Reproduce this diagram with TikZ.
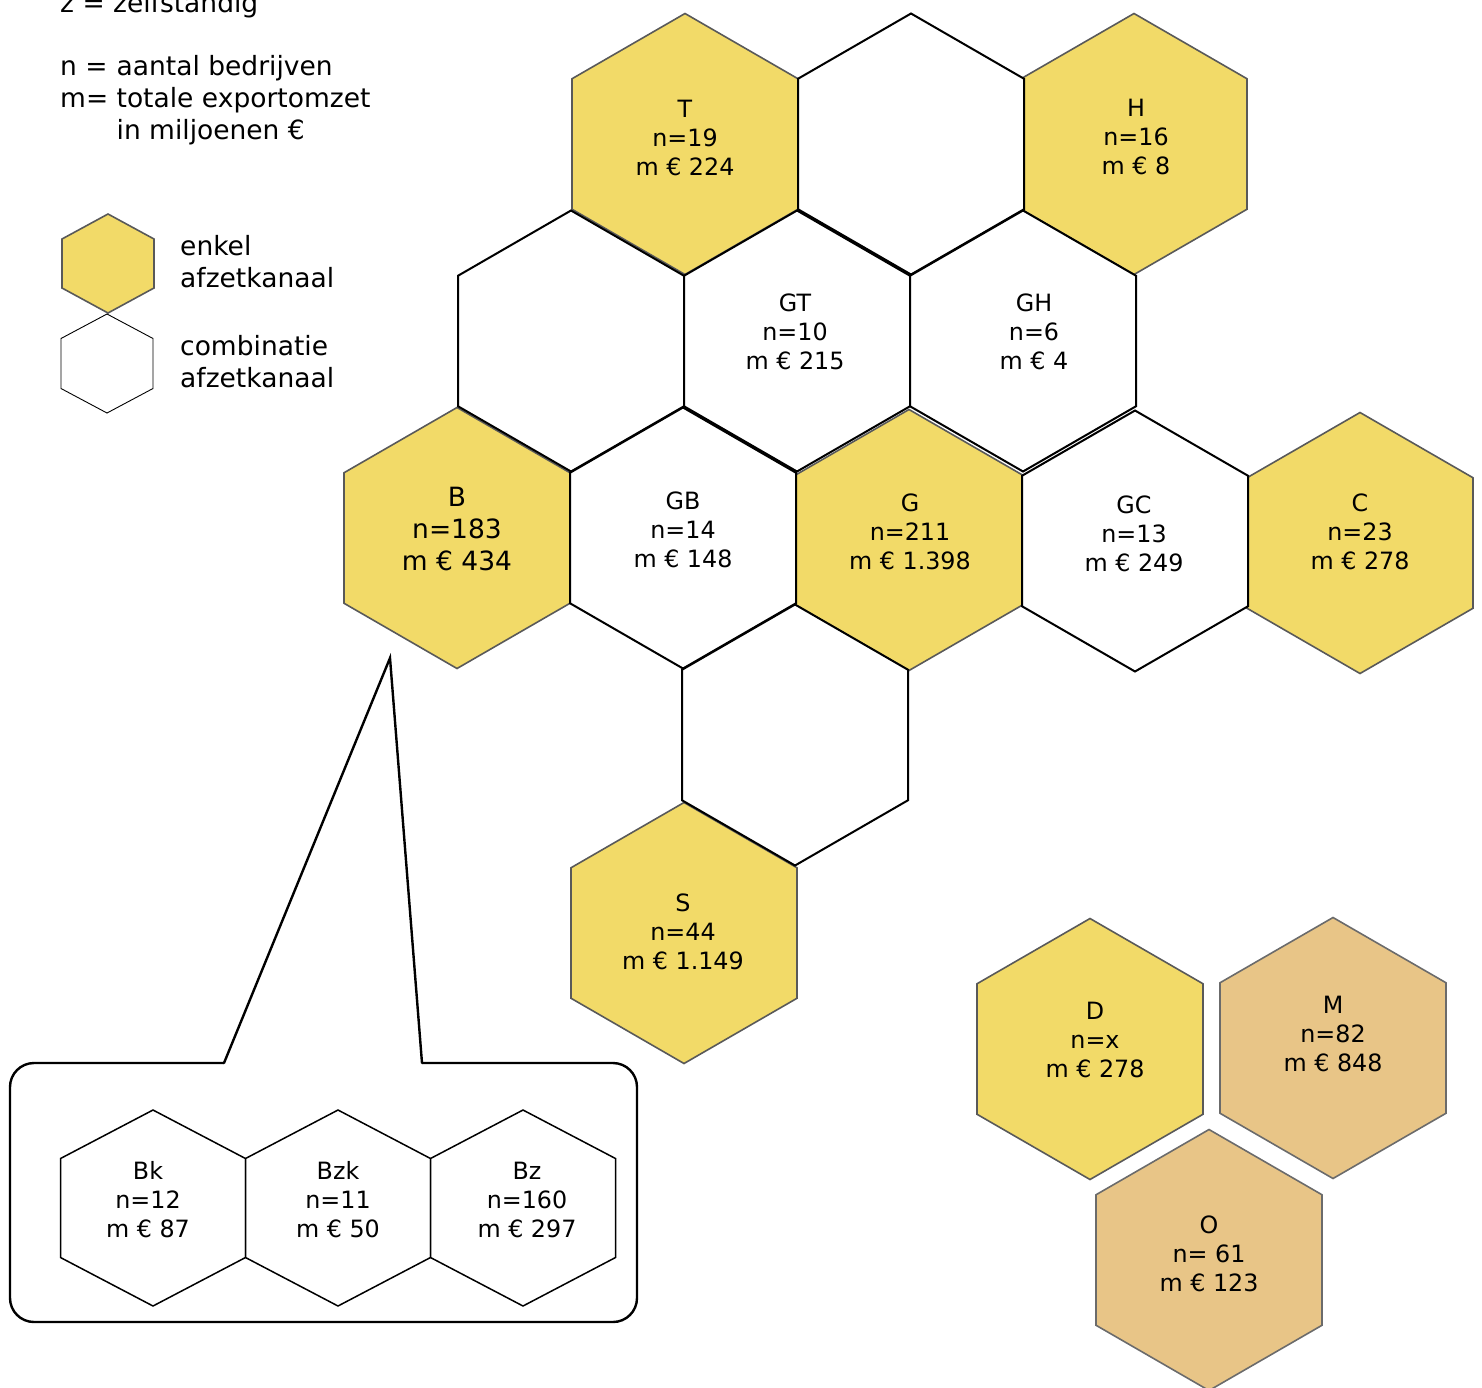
\documentclass[tikz,border=0pt]{standalone}
\usepackage{fontspec}
\setmainfont{DejaVu Sans}
\usetikzlibrary{positioning}

\definecolor{hexyellow}{HTML}{F2DA68}
\definecolor{hextan}{HTML}{E8C587}
\definecolor{hexedge}{HTML}{595959}
\definecolor{tanedge}{HTML}{6B6B6B}

\begin{document}
\begin{tikzpicture}[x=1pt, y=-1pt,
    pics/hexa/.style n args={4}{code={%
      \path[#1] (-#2,-#3) -- (0,-#4) -- (#2,-#3) -- (#2,#3) -- (0,#4) -- (-#2,#3) -- cycle;
    }},
    hexY/.style={fill=hexyellow, draw=hexedge, line width=1.6pt},
    hexT/.style={fill=hextan, draw=tanedge, line width=1.6pt},
    hexW/.style={fill=white, draw=black, line width=2pt},
    hexL/.style={fill=white, draw=black, line width=0.9pt},
    hexIn/.style={fill=white, draw=black, line width=1.5pt},
    lbl/.style={align=center, inner sep=0pt, font=\fontsize{23.8}{29}\selectfont},
    big/.style={lbl, font=\fontsize{26.5}{32}\selectfont},
    leg/.style={anchor=base west, inner sep=0pt, font=\fontsize{26.5}{32}\selectfont},
    callout/.style={draw=black, line width=2.4pt}
]
  \useasboundingbox (0,0) rectangle (1482,1387);

  % legend
  \node[leg] (zdef) at (60,12) {z = zelfstandig};
  \node[leg] (nmdef) at (60,75) {\begin{tabular}[t]{@{}l@{\ }l@{}}
      n = & aantal bedrijven\\
      m= & totale exportomzet\\
         & in miljoenen €
    \end{tabular}};
  \pic at (108,263.5) {hexa={hexY}{46}{24.5}{49.5}};
  \pic at (107,363.5) {hexa={hexL}{46}{25}{49.5}};
  \node[leg] (enkel) at (180,255) {\begin{tabular}[t]{@{}l@{}}enkel\\afzetkanaal\end{tabular}};
  \node[leg] (combi) at (180,355) {\begin{tabular}[t]{@{}l@{}}combinatie\\afzetkanaal\end{tabular}};

  % single channels
  \pic at (685,144)  {hexa={hexY}{113}{65.25}{130.5}};
  \pic at (1134,144) {hexa={hexY}{113}{65.25}{130.5}};
  \pic at (457,538)  {hexa={hexY}{113}{65.25}{130.5}};
  \pic at (909,540)  {hexa={hexY}{113}{65.25}{130.5}};
  \pic at (1360,543) {hexa={hexY}{113}{65.25}{130.5}};
  \pic at (684,933)  {hexa={hexY}{113}{65.25}{130.5}};
  \pic at (1090,1049) {hexa={hexY}{113}{65.25}{130.5}};
  \pic at (1333,1048) {hexa={hexT}{113}{65.25}{130.5}};
  \pic at (1209,1260) {hexa={hexT}{113}{65.25}{130.5}};

  % combinations
  \pic at (911,144)  {hexa={hexW}{113}{65.25}{130.5}};
  \pic at (571,341)  {hexa={hexW}{113}{65.25}{130.5}};
  \pic at (797,341)  {hexa={hexW}{113}{65.25}{130.5}};
  \pic at (1023,341) {hexa={hexW}{113}{65.25}{130.5}};
  \pic at (683,538)  {hexa={hexW}{113}{65.25}{130.5}};
  \pic at (1135,541) {hexa={hexW}{113}{65.25}{130.5}};
  \pic at (795,735)  {hexa={hexW}{113}{65.25}{130.5}};

  \node[lbl] (T)  at (685,138)  {T\\n=19\\m € 224};
  \node[lbl] (H)  at (1136,137) {H\\n=16\\m € 8};
  \node[lbl] (GT) at (795,332)  {GT\\n=10\\m € 215};
  \node[lbl] (GH) at (1034,332) {GH\\n=6\\m € 4};
  \node[big] (B)  at (457,529)  {B\\n=183\\m € 434};
  \node[lbl] (GB) at (683,530)  {GB\\n=14\\m € 148};
  \node[lbl] (G)  at (910,532)  {G\\n=211\\m € 1.398};
  \node[lbl] (GC) at (1134,534) {GC\\n=13\\m € 249};
  \node[lbl] (C)  at (1360,532) {C\\n=23\\m € 278};
  \node[lbl] (S)  at (683,932)  {S\\n=44\\m € 1.149};
  \node[lbl] (D)  at (1095,1040) {D\\n=x\\m € 278};
  \node[lbl] (M)  at (1333,1034) {M\\n=82\\m € 848};
  \node[lbl] (O)  at (1209,1254) {O\\n= 61\\m € 123};

  % breakdown of B
  \coordinate (tip) at (390,658);
  \draw[callout, rounded corners=24] (422,1063) -- (637,1063) -- (637,1322) -- (10,1322) -- (10,1063) -- (224,1063);
  \draw[callout, line cap=round] (224,1063) -- (tip) -- (422,1063);

  \pic at (153,1208) {hexa={hexIn}{92.5}{49.5}{98}};
  \pic at (338,1208) {hexa={hexIn}{92.5}{49.5}{98}};
  \pic at (523,1208) {hexa={hexIn}{92.5}{49.5}{98}};

  \node[lbl] (Bk)  at (148,1200) {Bk\\n=12\\m € 87};
  \node[lbl] (Bzk) at (338,1200) {Bzk\\n=11\\m € 50};
  \node[lbl] (Bz)  at (527,1200) {Bz\\n=160\\m € 297};
\end{tikzpicture}
\end{document}
